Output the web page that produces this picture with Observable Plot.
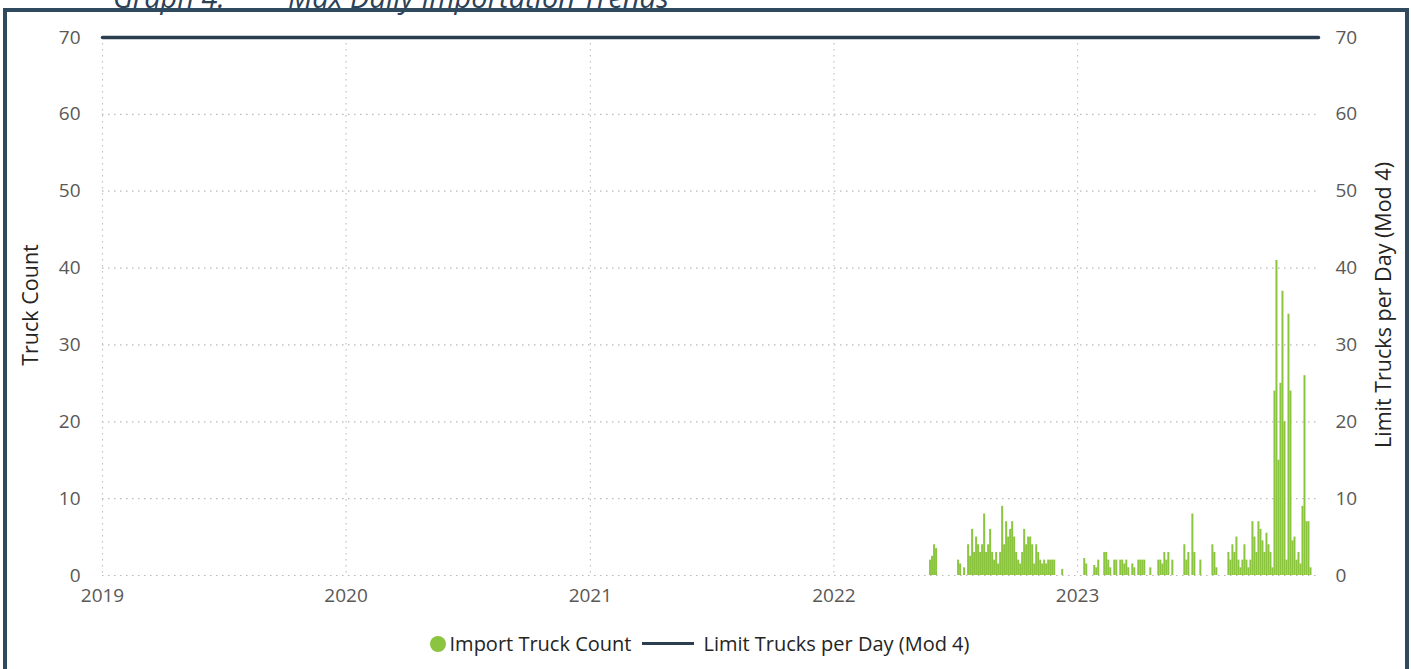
<!DOCTYPE html>
<html>
<head>
<meta charset="utf-8">
<script src="https://cdn.jsdelivr.net/npm/d3@7"></script>
<script src="https://cdn.jsdelivr.net/npm/@observablehq/plot@0.6"></script>
<style>
  html, body { margin: 0; padding: 0; background: #fff; overflow: hidden; }
  #wrap { position: relative; width: 1411px; height: 669px; overflow: hidden; font-family: "Open Sans", sans-serif; }
  .title { position: absolute; top: -23px; font-size: 29px; font-style: italic; color: #2c4257; white-space: pre; font-family: "Open Sans", sans-serif; }
  #frame { position: absolute; left: 3px; top: 8px; width: 1406px; height: 700px; border: 4px solid #2f4a5f; box-sizing: border-box; }
  #chart { position: absolute; left: 0; top: 0; }
  .ytitle { position: absolute; width: 400px; text-align: center; font-size: 21.5px; color: #252423; white-space: nowrap; transform: translate(-50%, -50%) rotate(-90deg); line-height: 1; }
  #legend { position: absolute; top: 630px; left: -6px; width: 1411px; display: flex; justify-content: center; align-items: center; font-size: 20px; color: #252423; font-family: "Open Sans", sans-serif; }
  .dot { width: 16px; height: 16px; border-radius: 50%; background: #8BC53F; margin-right: 4px; }
  .ln { width: 52px; height: 3px; background: #2b3e50; margin: 0 9px 0 11px; }
</style>
</head>
<body>
<div id="wrap">
  <div class="title" style="left:113px">Graph 4.</div>
  <div class="title" style="left:288px">Max Daily Importation Trends</div>
  <div id="frame"></div>
  <div id="chart"></div>
  <div class="ytitle" style="left:30px; top:305px">Truck Count</div>
  <div class="ytitle" style="left:1383px; top:305px">Limit Trucks per Day (Mod 4)</div>
  <div id="legend"><span class="dot"></span><span>Import Truck Count</span><span class="ln"></span><span>Limit Trucks per Day (Mod 4)</span></div>
</div>
<script>
// Import truck counts, one reading every 3 days starting 2022-05-25
const countStart = "2022-05-25";
const countStepDays = 3;
const truckCounts = [
  2, 2.5, 4, 3.5, 0, 0, 0, 0, 0, 0, 0, 0, 0, 0, 2, 1.5, 0, 1, 0,
  4, 2.5, 6, 3, 5, 4, 3, 4, 8, 3, 4, 6, 3, 2, 3, 1.5, 3, 9, 4, 7,
  5, 6, 7, 5, 3, 2, 1.5, 3, 6, 4, 5, 5, 4, 1.5, 4, 3, 2, 1.5, 2, 1.5,
  2, 2, 2, 2, 0, 0, 0, 0.8, 0, 0, 0, 0, 0, 0, 0, 0, 0, 0, 2.2, 1.5,
  0, 0, 0, 1.3, 1, 2, 0, 0, 3, 3, 2, 1, 0, 2, 2, 0, 2, 2, 1.5, 2,
  1, 0, 1.5, 1, 0, 2, 2, 2, 2, 0, 0, 1, 0, 0, 0, 2, 2, 1.5, 3, 2,
  3, 0, 2, 0, 0, 0, 0, 0, 4, 2, 3, 0, 8, 3, 0, 0, 2, 0, 0, 0,
  0, 0, 4, 3, 1, 0, 0, 0, 0, 0, 3, 2, 4, 3, 5, 2, 1, 2, 4, 2,
  1, 2, 7, 5, 3, 7, 6, 4.5, 3, 5.5, 4, 3, 1, 24, 41, 15, 25, 37, 20, 2,
  34, 24, 4.5, 5, 2, 3, 1.5, 9, 26, 7, 7, 1
];
// Limit line (Mod 4)
const limitDates = ["2019-01-01", "2023-12-28"];
const limitValues = [70, 70];
// Axis ticks
const yTicks = [0, 10, 20, 30, 40, 50, 60, 70];
const yearTicks = ["2019-01-01", "2020-01-01", "2021-01-01", "2022-01-01", "2023-01-01"];

const start = new Date(countStart + "T00:00:00Z");
const counts = truckCounts.map((v, i) => ({date: d3.utcDay.offset(start, countStepDays * i), value: v}))
  .filter(d => d.value > 0);
const limit = limitDates.map((d, i) => ({date: new Date(d + "T00:00:00Z"), value: limitValues[i]}));
const years = yearTicks.map(d => new Date(d + "T00:00:00Z"));

const chart = Plot.plot({
  width: 1411,
  height: 615,
  marginTop: 37,
  marginBottom: 40,
  marginLeft: 102,
  marginRight: 93,
  style: {fontFamily: "Open Sans, sans-serif", fontSize: "19px", color: "#605e5c", background: "transparent"},
  x: {type: "utc", domain: [limit[0].date, limit[1].date]},
  y: {domain: [0, 70]},
  marks: [
    Plot.gridY(yTicks.slice(0, -1), {stroke: "#b8b8b8", strokeOpacity: 1, strokeDasharray: "1.5,4.5", strokeWidth: 1.2}),
    Plot.gridX(years, {stroke: "#c4c4c4", strokeOpacity: 1, strokeDasharray: "1.5,4.5", strokeWidth: 1.2}),
    Plot.ruleX(counts, {x: "date", y1: 0, y2: "value", stroke: "#8BC53F", strokeWidth: 2}),
    Plot.line(limit, {x: "date", y: "value", stroke: "#2b3e50", strokeWidth: 3.5}),
    Plot.axisY(yTicks, {anchor: "left", tickSize: 0, tickPadding: 22, label: null, fill: "#5a5856"}),
    Plot.axisY(yTicks, {anchor: "right", tickSize: 0, tickPadding: 17, label: null, fill: "#5a5856"}),
    Plot.axisX(years, {anchor: "bottom", tickSize: 0, tickPadding: 13, tickFormat: d3.utcFormat("%Y"), label: null, fill: "#5a5856"})
  ]
});
document.getElementById("chart").appendChild(chart);
</script>
</body>
</html>
